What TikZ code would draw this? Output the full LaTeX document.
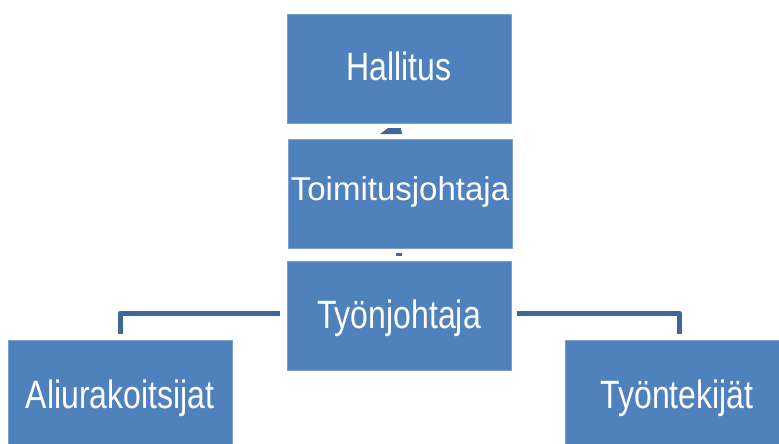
\documentclass[tikz,border=0pt]{standalone}
\usepackage{fontspec}
\setmainfont{Liberation Sans}
\newfontfamily\narrowfont[FakeStretch=0.81]{Liberation Sans}
\definecolor{boxblue}{RGB}{79,129,189}
\definecolor{boxedge}{RGB}{125,160,208}
\definecolor{connblue}{RGB}{65,102,154}
\begin{document}
\begin{tikzpicture}[x=1pt,y=-1pt,
  orgbox/.style={fill=boxblue,draw=boxedge,line width=0.6pt,inner sep=0pt,
    minimum width=224pt,minimum height=109pt,text=white,
    text height=29pt,text depth=4.6pt,
    font=\narrowfont\fontsize{39.5}{44}\selectfont},
  conn/.style={draw=connblue,line width=5pt,line join=round}]
\useasboundingbox (0,0) rectangle (779,444);
\clip (0,0) rectangle (779,444);
\node[orgbox] (hal) at (399,68.5) {Hallitus};
\node[orgbox,font=\rmfamily\fontsize{33}{38}\selectfont,
  text height=24pt,text depth=10.6pt] (toi) at (400,194) {Toimitusjohtaja};
\node[orgbox] (tyj) at (399,316) {Työnjohtaja};
\node[orgbox,text depth=1.4pt] (ali) at (120,394.5) {Aliurakoitsijat};
\node[orgbox,text depth=1.4pt] (tek) at (677,394.5) {Työntekijät};
\draw[conn,shorten <=7pt,shorten >=6pt] ([yshift=3pt]tyj.west) -| (ali.north);
\draw[conn,shorten <=6pt,shorten >=6pt] ([yshift=3pt]tyj.east) -| ([xshift=2pt]tek.north);
\fill[connblue] (380,134) -- (388,128) -- (401,128) -- (402,134) -- cycle;
\fill[connblue] (396,253) rectangle (402,256);
\end{tikzpicture}
\end{document}
